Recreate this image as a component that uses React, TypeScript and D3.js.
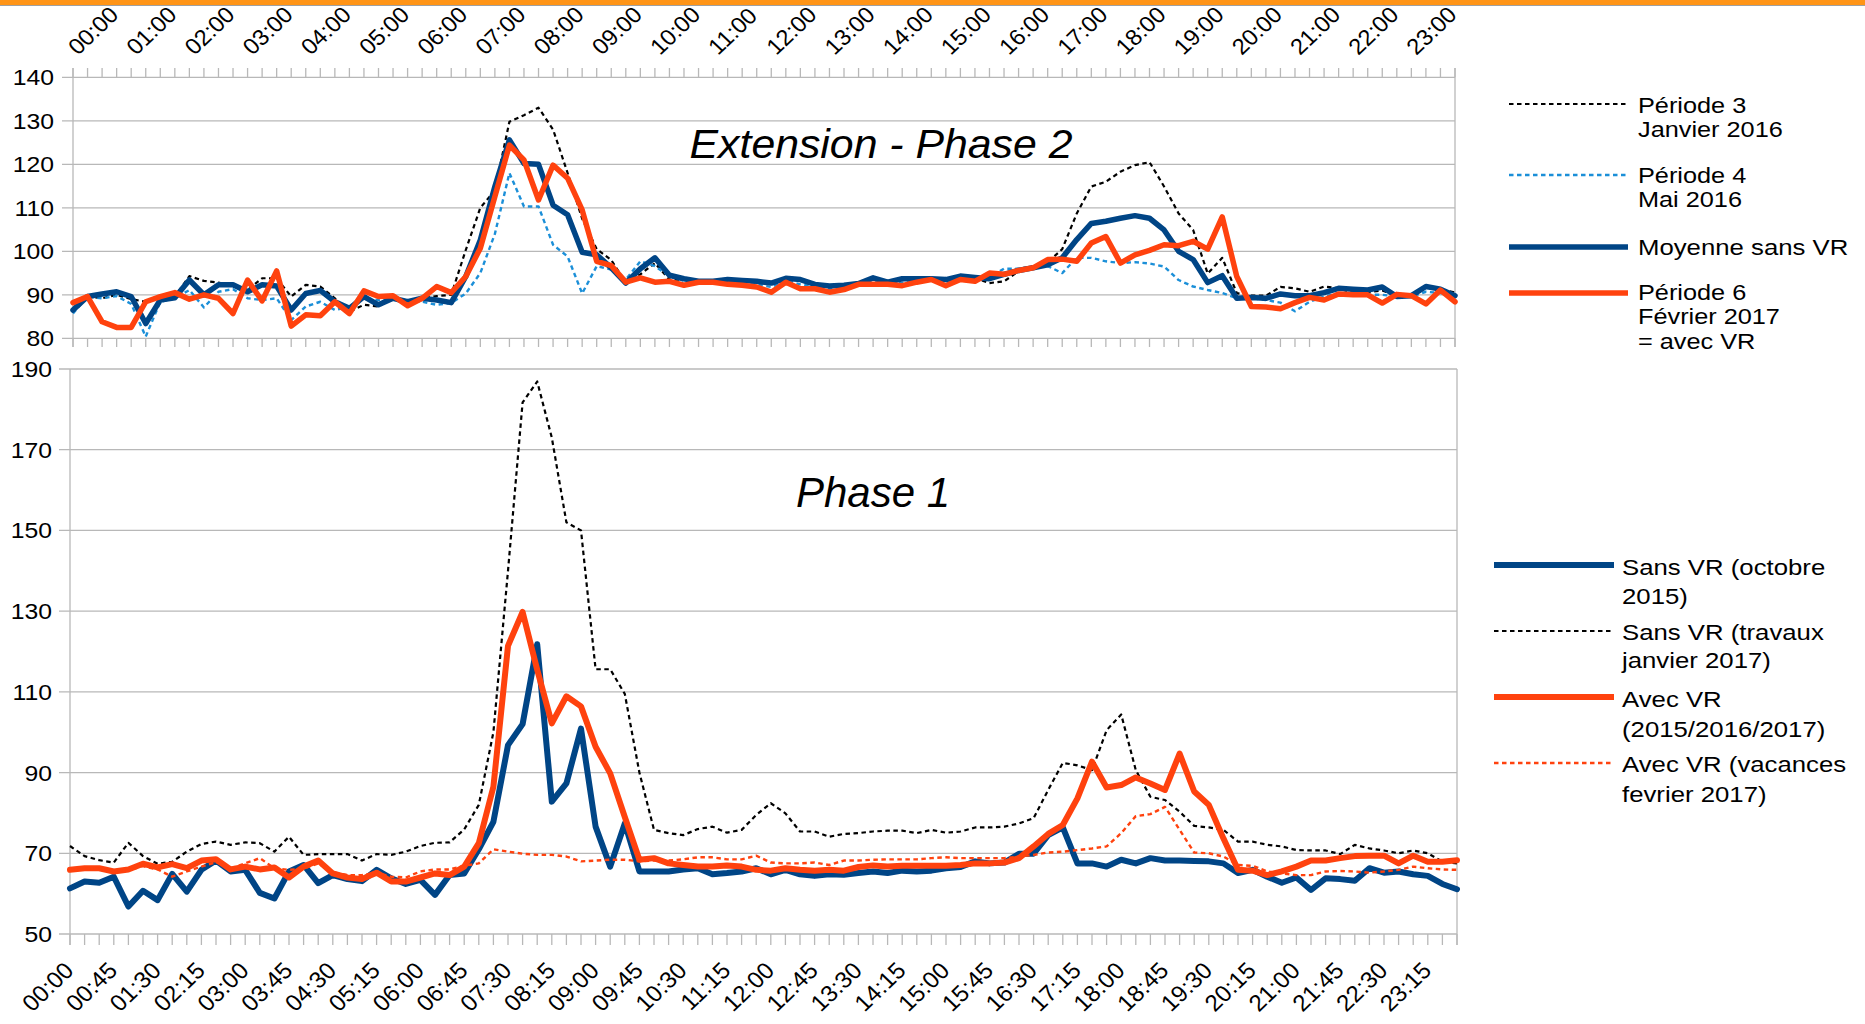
import React from "react";
import * as d3 from "d3";

const W = 1865;
const H = 1024;
const FONT = "'Liberation Sans', Arial, sans-serif";
const GRID = "#b8b8b8";

// ---- categories (quarter hours) ----
const hours = ["00","01","02","03","04","05","06","07","08","09","10","11","12","13","14","15","16","17","18","19","20","21","22","23"];
const quarters = ["00", "15", "30", "45"];
const slots: string[] = hours.flatMap((h) => quarters.map((m) => `${h}:${m}`));

// ---- tick labels ----
const topTickLabels = ["00:00","01:00","02:00","03:00","04:00","05:00","06:00","07:00","08:00","09:00","10:00","11:00","12:00","13:00","14:00","15:00","16:00","17:00","18:00","19:00","20:00","21:00","22:00","23:00"];
const bottomTickLabels = ["00:00","00:45","01:30","02:15","03:00","03:45","04:30","05:15","06:00","06:45","07:30","08:15","09:00","09:45","10:30","11:15","12:00","12:45","13:30","14:15","15:00","15:45","16:30","17:15","18:00","18:45","19:30","20:15","21:00","21:45","22:30","23:15"];
const topYTicks = [80, 90, 100, 110, 120, 130, 140];
const bottomYTicks = [50, 70, 90, 110, 130, 150, 170, 190];

// ---- top panel: Extension - Phase 2 ----
const topPeriode3 = [
  88.0, 89.6, 89.2, 90.0, 89.0, 88.4, 89.2, 89.6, 94.3, 93.2,
  92.8, 92.0, 91.1, 93.8, 93.8, 89.6, 92.3, 91.9, 89.2, 86.1,
  87.7, 87.3, 89.3, 88.4, 89.3, 89.7, 90.0, 100.3, 110.0, 114.0,
  129.8, 131.3, 133.0, 128.0, 118.0, 107.5, 100.5, 98.0, 92.8, 94.7,
  97.3, 93.5, 93.5, 93.0, 93.0, 93.4, 93.2, 93.0, 92.6, 93.6,
  93.3, 92.2, 91.9, 92.1, 92.5, 93.7, 92.8, 93.6, 93.6, 93.6,
  93.4, 94.1, 93.8, 92.7, 93.1, 95.4, 96.2, 97.5, 100.5, 108.7,
  114.9, 116.0, 118.3, 119.8, 120.5, 114.9, 108.7, 104.9, 94.9, 98.5,
  90.4, 89.8, 89.8, 91.8, 91.5, 90.7, 91.9, 91.5, 90.4, 90.6,
  91.0, 89.8, 89.8, 92.0, 91.3, 90.5,
];
const topPeriode4 = [
  85.7, 89.6, 89.2, 89.7, 87.9, 80.4, 88.4, 89.2, 91.1, 87.1,
  90.7, 91.3, 89.2, 88.8, 89.2, 84.2, 87.3, 88.4, 86.5, 87.3,
  89.2, 88.8, 89.2, 88.4, 88.4, 87.7, 88.1, 90.3, 95.0, 104.0,
  118.0, 110.3, 110.3, 101.5, 98.8, 90.3, 96.6, 95.8, 93.5, 97.7,
  96.6, 94.3, 93.2, 92.8, 92.8, 93.0, 92.7, 92.4, 91.8, 93.3,
  92.4, 91.9, 91.3, 91.6, 92.4, 93.0, 92.5, 92.8, 93.2, 93.4,
  92.8, 93.8, 93.5, 94.0, 96.0, 96.0, 96.6, 96.6, 95.0, 98.5,
  98.5, 97.7, 97.3, 97.5, 97.2, 96.5, 93.4, 91.9, 91.1, 90.4,
  89.2, 89.2, 88.8, 88.2, 86.2, 88.4, 89.6, 90.4, 90.2, 90.0,
  90.0, 89.6, 89.6, 90.7, 90.4, 89.8,
];
const topMoyenneSansVR = [
  86.5, 89.6, 90.2, 90.7, 89.6, 83.4, 88.8, 89.3, 93.4, 90.0,
  92.3, 92.3, 90.7, 92.3, 92.0, 86.5, 90.3, 91.0, 88.4, 86.9,
  89.6, 87.7, 89.2, 88.4, 89.2, 88.8, 88.2, 94.2, 102.6, 114.9,
  125.6, 120.2, 120.0, 110.6, 108.4, 99.8, 99.2, 96.2, 92.7, 96.0,
  98.5, 94.5, 93.7, 93.1, 93.1, 93.5, 93.3, 93.1, 92.7, 93.8,
  93.5, 92.4, 92.0, 92.2, 92.6, 93.9, 92.9, 93.7, 93.7, 93.7,
  93.5, 94.3, 94.0, 93.7, 94.7, 95.6, 96.2, 96.9, 98.5, 102.7,
  106.4, 106.9, 107.6, 108.2, 107.6, 104.9, 100.0, 98.1, 92.8, 94.4,
  89.2, 89.4, 89.2, 90.2, 89.8, 89.8, 90.5, 91.5, 91.3, 91.1,
  91.8, 89.6, 89.8, 91.9, 91.3, 89.8,
];
const topPeriode6 = [
  88.2, 89.6, 83.8, 82.5, 82.5, 88.4, 89.6, 90.5, 89.0, 90.0,
  89.2, 85.7, 93.4, 88.6, 95.5, 82.8, 85.4, 85.2, 88.4, 85.7,
  90.9, 89.6, 89.8, 87.5, 89.2, 91.9, 90.5, 94.2, 100.7, 112.6,
  124.4, 121.0, 111.8, 119.8, 116.8, 109.5, 97.7, 96.7, 92.9, 93.9,
  92.9, 93.1, 92.2, 92.9, 92.9, 92.4, 92.2, 91.8, 90.6, 92.9,
  91.4, 91.4, 90.6, 91.2, 92.4, 92.4, 92.4, 92.1, 92.9, 93.5,
  92.1, 93.5, 93.1, 95.0, 94.7, 95.6, 96.2, 98.1, 98.2, 97.7,
  101.9, 103.4, 97.3, 99.2, 100.2, 101.5, 101.3, 102.3, 100.5, 107.9,
  94.2, 87.3, 87.2, 86.8, 88.2, 89.4, 88.8, 90.2, 90.0, 90.0,
  88.1, 90.1, 89.8, 87.9, 91.1, 88.4,
];

// ---- bottom panel: Phase 1 ----
const botSansVROctobre2015 = [
  61.3, 63.0, 62.7, 64.2, 56.8, 60.7, 58.4, 64.9, 60.5, 65.9,
  68.2, 65.5, 65.9, 60.2, 58.8, 65.5, 67.1, 62.6, 64.6, 63.6,
  63.1, 65.9, 63.8, 62.4, 63.4, 59.7, 64.6, 65.0, 71.0, 77.8,
  96.8, 102.0, 121.8, 82.8, 87.3, 100.9, 76.6, 66.7, 77.4, 65.5,
  65.5, 65.5, 66.0, 66.3, 64.8, 65.1, 65.5, 66.3, 64.8, 65.9,
  64.8, 64.4, 64.8, 64.7, 65.1, 65.5, 65.1, 65.7, 65.5, 65.7,
  66.3, 66.6, 68.0, 67.5, 67.7, 69.9, 69.9, 74.5, 76.4, 67.5,
  67.5, 66.7, 68.4, 67.5, 68.8, 68.2, 68.2, 68.1, 68.0, 67.5,
  65.1, 65.9, 64.2, 62.7, 64.0, 60.9, 63.8, 63.6, 63.2, 66.3,
  65.2, 65.5, 64.8, 64.4, 62.4, 61.1,
];
const botSansVRTravaux2017 = [
  71.8, 69.3, 68.3, 67.7, 72.6, 69.3, 67.4, 67.9, 70.4, 72.3,
  72.9, 72.1, 72.7, 72.5, 70.4, 74.1, 69.6, 69.8, 69.8, 69.8,
  68.2, 69.8, 69.6, 70.4, 71.8, 72.6, 72.7, 75.9, 82.0, 100.0,
  140.0, 181.7, 186.9, 173.0, 152.0, 150.0, 115.6, 115.6, 109.5, 90.0,
  75.8, 75.0, 74.5, 76.0, 76.6, 75.1, 75.8, 79.5, 82.4, 79.9,
  75.4, 75.4, 74.1, 74.8, 75.0, 75.4, 75.6, 75.6, 75.0, 75.8,
  75.1, 75.4, 76.4, 76.4, 76.6, 77.4, 78.7, 85.7, 92.4, 91.8,
  90.6, 100.5, 104.4, 90.6, 84.0, 83.2, 80.3, 76.8, 76.4, 75.8,
  72.9, 72.9, 72.1, 71.7, 70.8, 70.7, 70.7, 69.8, 72.1, 71.2,
  70.7, 70.0, 70.7, 70.0, 67.9, 67.5,
];
const botAvecVR = [
  65.9, 66.3, 66.3, 65.5, 66.0, 67.4, 66.5, 67.3, 66.3, 68.2,
  68.5, 66.0, 66.7, 66.0, 66.5, 64.0, 66.7, 68.2, 65.0, 64.0,
  63.6, 65.2, 63.0, 63.0, 64.0, 65.0, 64.6, 66.7, 72.5, 86.5,
  121.4, 129.8, 115.5, 102.2, 108.9, 106.4, 96.4, 89.8, 79.0, 68.4,
  68.8, 67.5, 67.1, 66.7, 66.7, 67.0, 66.7, 65.9, 65.7, 66.3,
  65.9, 65.7, 65.9, 65.7, 66.6, 67.0, 66.7, 66.9, 66.9, 66.9,
  66.9, 67.1, 67.5, 67.5, 67.7, 68.8, 71.7, 74.8, 77.0, 83.6,
  92.7, 86.3, 86.9, 88.8, 87.3, 85.7, 94.7, 85.3, 82.0, 73.7,
  65.9, 65.7, 64.6, 65.5, 66.7, 68.2, 68.2, 68.8, 69.3, 69.4,
  69.4, 67.5, 69.4, 67.9, 67.9, 68.3,
];
const botAvecVRVacances2017 = [
  65.8, 66.2, 66.3, 65.6, 65.8, 66.8, 66.0, 64.2, 65.5, 66.7,
  67.8, 66.2, 67.5, 68.8, 66.3, 65.9, 66.2, 67.5, 65.3, 64.6,
  64.6, 65.2, 64.2, 64.0, 65.5, 66.0, 66.0, 66.9, 67.5, 71.0,
  70.4, 69.9, 69.6, 69.6, 69.2, 68.0, 68.2, 68.4, 68.4, 68.0,
  68.2, 68.2, 68.5, 69.0, 69.0, 68.5, 68.5, 69.4, 67.7, 67.5,
  67.5, 67.7, 67.1, 68.2, 68.2, 68.4, 68.5, 68.5, 68.5, 68.8,
  69.0, 68.8, 68.8, 68.8, 68.8, 69.2, 69.6, 70.2, 70.4, 70.8,
  71.2, 71.7, 75.0, 79.2, 79.7, 81.5, 75.8, 70.2, 70.0, 69.2,
  67.1, 66.9, 65.5, 65.0, 64.6, 64.6, 65.5, 65.6, 65.5, 65.2,
  65.5, 65.9, 66.7, 66.3, 66.0, 65.9,
];

const C_BLUE = "#004586";
const C_ORANGE = "#ff420e";
const C_LIGHTBLUE = "#1b8fd8";
const C_BLACK = "#000000";

type Series = { values: number[]; color: string; width: number; dash?: string };

const topSeries: Series[] = [
  { values: topPeriode3, color: C_BLACK, width: 2.2, dash: "4.5,3.5" },
  { values: topPeriode4, color: C_LIGHTBLUE, width: 2.4, dash: "4.5,3.5" },
  { values: topMoyenneSansVR, color: C_BLUE, width: 5.5 },
  { values: topPeriode6, color: C_ORANGE, width: 5.5 },
];
const bottomSeries: Series[] = [
  { values: botSansVROctobre2015, color: C_BLUE, width: 6 },
  { values: botSansVRTravaux2017, color: C_BLACK, width: 2.2, dash: "4.5,3.5" },
  { values: botAvecVR, color: C_ORANGE, width: 6 },
  { values: botAvecVRVacances2017, color: C_ORANGE, width: 2.4, dash: "4.5,3.5" },
];

function Txt(props: {
  x: number; y: number; size: number; sx?: number; anchor?: string; italic?: boolean; rotate?: number; children: React.ReactNode;
}) {
  const { x, y, size, sx = 1, anchor = "start", italic = false, rotate = 0, children } = props;
  return (
    <text
      transform={`translate(${x},${y}) scale(${sx},1)${rotate ? ` rotate(${rotate})` : ""}`}
      fontSize={size}
      fontFamily={FONT}
      fontStyle={italic ? "italic" : "normal"}
      textAnchor={anchor as any}
      fill="#000"
    >
      {children}
    </text>
  );
}

function LegendItem(props: { x1: number; x2: number; tx: number; ly: number; lines: string[]; baselines: number[]; s: Series; size: number; sx: number }) {
  const { x1, x2, tx, ly, lines, baselines, s, size, sx } = props;
  return (
    <g>
      <line x1={x1} x2={x2} y1={ly} y2={ly} stroke={s.color} strokeWidth={s.width} strokeDasharray={s.dash} />
      {lines.map((t, i) => (
        <Txt key={i} x={tx} y={baselines[i]} size={size} sx={sx}>{t}</Txt>
      ))}
    </g>
  );
}

export default function App() {
  // top panel scales
  const xT = d3.scalePoint<string>().domain(slots).range([73, 1455]);
  const yT = d3.scaleLinear().domain([80, 140]).range([338.3, 77.3]);
  // bottom panel scales
  const xB = d3.scalePoint<string>().domain(slots).range([70, 1457]);
  const yB = d3.scaleLinear().domain([50, 190]).range([934, 369]);

  const lineT = d3.line<number>().x((_, i) => xT(slots[i])!).y((d) => yT(d));
  const lineB = d3.line<number>().x((_, i) => xB(slots[i])!).y((d) => yB(d));

  const tTop = yT(140), tBot = yT(80);
  const bTop = yB(190), bBot = yB(50);

  return (
    <svg width={W} height={H} style={{ position: "absolute", left: 0, top: 0, display: "block", background: "#fff" }}>
      <rect x={0} y={0} width={W} height={H} fill="#fff" />
      {/* orange banner */}
      <rect x={0} y={0} width={W} height={5} fill="#ff9416" />
      <line x1={0} x2={W} y1={5.5} y2={5.5} stroke="#a0a0a0" strokeWidth={1} />

      {/* ===== TOP PANEL ===== */}
      <g>
        {topYTicks.map((v) => (
          <line key={v} x1={62} x2={1455} y1={yT(v)} y2={yT(v)} stroke={GRID} strokeWidth={1.3} />
        ))}
        <line x1={73} x2={73} y1={68} y2={347} stroke={GRID} strokeWidth={1.3} />
        <line x1={1455} x2={1455} y1={68} y2={347} stroke={GRID} strokeWidth={1.3} />
        {slots.map((s) => (
          <g key={s}>
            <line x1={xT(s)!} x2={xT(s)!} y1={68} y2={tTop} stroke={GRID} strokeWidth={1.3} />
            <line x1={xT(s)!} x2={xT(s)!} y1={tBot} y2={347} stroke={GRID} strokeWidth={1.3} />
          </g>
        ))}
        {topYTicks.map((v) => (
          <Txt key={v} x={54} y={yT(v) + 8} size={22.5} sx={1.1} anchor="end">{v}</Txt>
        ))}
        {topTickLabels.map((l) => (
          <Txt key={l} x={xT(l)! + 5} y={56} size={22.5} sx={1.05} rotate={-45}>{l}</Txt>
        ))}
        {topSeries.map((s, i) => (
          <path key={i} d={lineT(s.values)!} fill="none" stroke={s.color} strokeWidth={s.width}
            strokeDasharray={s.dash} strokeLinejoin="round" strokeLinecap={s.dash ? "butt" : "round"} />
        ))}
        <Txt x={881} y={158} size={40} sx={1.07} italic anchor="middle">Extension - Phase 2</Txt>
      </g>

      {/* ===== BOTTOM PANEL ===== */}
      <g>
        {bottomYTicks.map((v) => (
          <line key={v} x1={59} x2={1457} y1={yB(v)} y2={yB(v)} stroke={GRID} strokeWidth={1.3} />
        ))}
        <line x1={70} x2={70} y1={bTop} y2={945} stroke={GRID} strokeWidth={1.3} />
        <line x1={1457} x2={1457} y1={bTop} y2={945} stroke={GRID} strokeWidth={1.3} />
        {slots.map((s) => (
          <line key={s} x1={xB(s)!} x2={xB(s)!} y1={bBot} y2={945} stroke={GRID} strokeWidth={1.3} />
        ))}
        {bottomYTicks.map((v) => (
          <Txt key={v} x={52} y={yB(v) + 8} size={22.5} sx={1.1} anchor="end">{v}</Txt>
        ))}
        {bottomTickLabels.map((l) => (
          <Txt key={l} x={xB(l)! + 5} y={972} size={23} sx={1.05} anchor="end" rotate={-45}>{l}</Txt>
        ))}
        {bottomSeries.map((s, i) => (
          <path key={i} d={lineB(s.values)!} fill="none" stroke={s.color} strokeWidth={s.width}
            strokeDasharray={s.dash} strokeLinejoin="round" strokeLinecap={s.dash ? "butt" : "round"} />
        ))}
        <Txt x={873} y={507} size={42} italic anchor="middle">Phase 1</Txt>
      </g>

      {/* ===== LEGENDS ===== */}
      <LegendItem x1={1509} x2={1628} tx={1638} ly={104} lines={["Période 3", "Janvier 2016"]} baselines={[113, 137]} s={topSeries[0]} size={22} sx={1.15} />
      <LegendItem x1={1509} x2={1628} tx={1638} ly={175} lines={["Période 4", "Mai 2016"]} baselines={[183, 207]} s={topSeries[1]} size={22} sx={1.15} />
      <LegendItem x1={1509} x2={1628} tx={1638} ly={247} lines={["Moyenne sans VR"]} baselines={[255]} s={topSeries[2]} size={22} sx={1.17} />
      <LegendItem x1={1509} x2={1628} tx={1638} ly={293} lines={["Période 6", "Février 2017", "= avec VR"]} baselines={[300, 324, 349]} s={topSeries[3]} size={22} sx={1.15} />

      <LegendItem x1={1494} x2={1614} tx={1622} ly={565} lines={["Sans VR (octobre", "2015)"]} baselines={[575, 604]} s={bottomSeries[0]} size={23} sx={1.12} />
      <LegendItem x1={1494} x2={1614} tx={1622} ly={631} lines={["Sans VR (travaux", "janvier 2017)"]} baselines={[640, 668]} s={bottomSeries[1]} size={23} sx={1.12} />
      <LegendItem x1={1494} x2={1614} tx={1622} ly={697} lines={["Avec VR", "(2015/2016/2017)"]} baselines={[707, 737]} s={bottomSeries[2]} size={23} sx={1.12} />
      <LegendItem x1={1494} x2={1614} tx={1622} ly={763} lines={["Avec VR (vacances", "fevrier 2017)"]} baselines={[772, 802]} s={bottomSeries[3]} size={23} sx={1.12} />
    </svg>
  );
}
